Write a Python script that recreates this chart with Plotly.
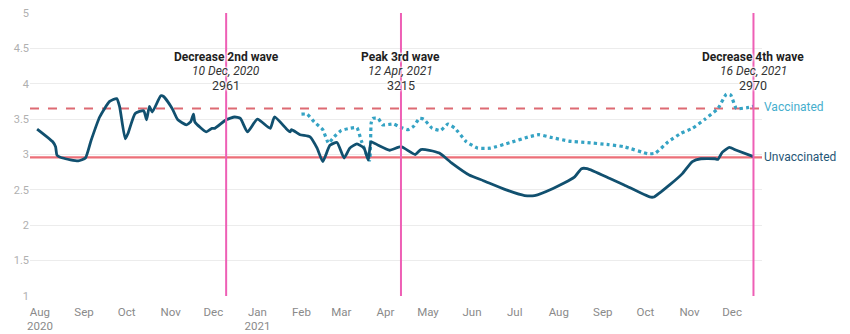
import plotly.graph_objects as go

# Unvaccinated series (thousands)
unvax_dates = [
    "2020-07-30", "2020-08-10", "2020-08-12", "2020-08-13", "2020-08-17", "2020-08-28",
    "2020-09-02", "2020-09-06", "2020-09-12", "2020-09-19", "2020-09-24", "2020-09-26",
    "2020-09-30", "2020-10-02", "2020-10-07", "2020-10-13", "2020-10-15", "2020-10-17",
    "2020-10-19", "2020-10-25", "2020-10-27", "2020-11-02", "2020-11-06", "2020-11-12",
    "2020-11-15", "2020-11-17", "2020-11-18", "2020-11-26", "2020-11-30", "2020-12-02",
    "2020-12-10", "2020-12-16", "2020-12-20", "2020-12-25", "2021-01-01", "2021-01-10",
    "2021-01-13", "2021-01-22", "2021-01-24", "2021-01-25", "2021-01-31", "2021-02-07",
    "2021-02-12", "2021-02-16", "2021-02-21", "2021-02-26", "2021-03-03", "2021-03-07",
    "2021-03-12", "2021-03-17", "2021-03-20", "2021-03-22", "2021-03-27", "2021-04-04",
    "2021-04-12", "2021-04-22", "2021-04-26", "2021-05-02", "2021-05-09", "2021-05-18",
    "2021-05-30", "2021-06-09", "2021-06-25", "2021-07-08", "2021-07-15", "2021-07-28",
    "2021-08-12", "2021-08-17", "2021-08-21", "2021-09-06", "2021-09-16", "2021-10-04",
    "2021-10-07", "2021-10-18", "2021-10-27", "2021-11-03", "2021-11-09", "2021-11-19",
    "2021-11-21", "2021-11-24", "2021-11-29", "2021-12-04", "2021-12-16",
]
unvax_values = [
    3.36, 3.18, 3.11, 2.99, 2.95, 2.91,
    2.95, 3.20, 3.53, 3.75, 3.79, 3.68,
    3.22, 3.30, 3.58, 3.62, 3.49, 3.68,
    3.60, 3.83, 3.82, 3.65, 3.49, 3.42,
    3.46, 3.57, 3.46, 3.32, 3.37, 3.37,
    3.49, 3.53, 3.51, 3.32, 3.50, 3.37,
    3.53, 3.35, 3.32, 3.35, 3.28, 3.25,
    3.09, 2.90, 3.13, 3.17, 2.95, 3.09,
    3.15, 3.09, 2.92, 3.18, 3.13, 3.06,
    3.11, 3.00, 3.07, 3.06, 3.02, 2.875,
    2.71, 2.63, 2.50, 2.42, 2.42, 2.52,
    2.68, 2.80, 2.80, 2.66, 2.57, 2.40,
    2.40, 2.57, 2.73, 2.90, 2.94, 2.94,
    2.93, 3.03, 3.10, 3.06, 2.97,
]

# Vaccinated series (thousands)
vax_dates = [
    "2021-02-01", "2021-02-05", "2021-02-10", "2021-02-16", "2021-02-20", "2021-02-24",
    "2021-03-01", "2021-03-07", "2021-03-12", "2021-03-15", "2021-03-19", "2021-03-21",
    "2021-03-22", "2021-03-23", "2021-03-27", "2021-03-30", "2021-04-07", "2021-04-11",
    "2021-04-17", "2021-04-21", "2021-04-25", "2021-04-28", "2021-05-04", "2021-05-10",
    "2021-05-15", "2021-05-20", "2021-05-28", "2021-06-05", "2021-06-14", "2021-06-28",
    "2021-07-11", "2021-07-18", "2021-07-27", "2021-08-08", "2021-08-20", "2021-09-05",
    "2021-09-16", "2021-10-03", "2021-10-08", "2021-10-17", "2021-10-26", "2021-11-03",
    "2021-11-12", "2021-11-21", "2021-11-27", "2021-11-30", "2021-12-04", "2021-12-11",
    "2021-12-16",
]
vax_values = [
    3.57, 3.57, 3.46, 3.35, 3.16, 3.25,
    3.34, 3.37, 3.38, 3.20, 2.99, 2.92,
    3.44, 3.51, 3.51, 3.42, 3.43, 3.39,
    3.35, 3.40, 3.51, 3.50, 3.37, 3.34,
    3.43, 3.37, 3.18, 3.09, 3.09, 3.17,
    3.25, 3.28, 3.24, 3.19, 3.17, 3.14,
    3.11, 3.01, 3.02, 3.18, 3.30, 3.37,
    3.50, 3.65, 3.855, 3.84, 3.65, 3.66,
    3.68,
]

# Reference levels
vax_reference = 3.65
unvax_reference = 2.96

# Wave markers
event_dates = ["2020-12-10", "2021-04-12", "2021-12-16"]
event_titles = ["Decrease 2nd wave", "Peak 3rd wave", "Decrease 4th wave"]
event_subtitles = ["10 Dec, 2020", "12 Apr, 2021", "16 Dec, 2021"]
event_values = ["2961", "3215", "2970"]

# Axis ticks
tick_dates = [
    "2020-08-01", "2020-09-01", "2020-10-01", "2020-11-01", "2020-12-01",
    "2021-01-01", "2021-02-01", "2021-03-01", "2021-04-01", "2021-05-01",
    "2021-06-01", "2021-07-01", "2021-08-01", "2021-09-01", "2021-10-01",
    "2021-11-01", "2021-12-01",
]
tick_labels = [
    "Aug<br>2020", "Sep", "Oct", "Nov", "Dec",
    "Jan<br>2021", "Feb", "Mar", "Apr", "May",
    "Jun", "Jul", "Aug", "Sep", "Oct",
    "Nov", "Dec",
]
y_ticks = [1, 1.5, 2, 2.5, 3, 3.5, 4, 4.5, 5]
y_labels = ["1", "1.5", "2", "2.5", "3", "3.5", "4", "4.5", "5"]

DARK = "#11506f"
LIGHT = "#35a3c4"
RED = "#ec6f78"
PINK = "#ee5fb5"
HALO = "1px 1px 2px #fff, -1px -1px 2px #fff, 1px -1px 2px #fff, -1px 1px 2px #fff"

fig = go.Figure()

fig.add_trace(go.Scatter(
    x=vax_dates, y=vax_values, mode="lines", name="Vaccinated",
    line=dict(color=LIGHT, width=3.2, dash="dot", shape="spline", smoothing=0.4),
    hoverinfo="skip",
))
fig.add_trace(go.Scatter(
    x=unvax_dates, y=unvax_values, mode="lines", name="Unvaccinated",
    line=dict(color=DARK, width=2.8, shape="spline", smoothing=0.5),
    hoverinfo="skip",
))

# Horizontal reference levels
fig.add_shape(type="line", xref="paper", x0=0, x1=1, yref="y",
              y0=vax_reference, y1=vax_reference, layer="below",
              line=dict(color="#dd6a73", width=2, dash="dash"))
fig.add_shape(type="line", xref="paper", x0=0, x1=1, yref="y",
              y0=unvax_reference, y1=unvax_reference, layer="below",
              line=dict(color=RED, width=2.2))

# Vertical wave markers and their labels
for d, title, sub, val in zip(event_dates, event_titles, event_subtitles, event_values):
    fig.add_shape(type="line", xref="x", x0=d, x1=d, yref="y", y0=1, y1=5,
                  layer="above", line=dict(color=PINK, width=2))
    fig.add_annotation(x=d, y=4.38, xref="x", yref="y", text=f"<b>{title}</b>",
                       showarrow=False, font=dict(size=12, color="#1e1e1e", shadow=HALO))
    fig.add_annotation(x=d, y=4.175, xref="x", yref="y", text=f"<i>{sub}</i>",
                       showarrow=False, font=dict(size=12, color="#333", shadow=HALO))
    fig.add_annotation(x=d, y=3.975, xref="x", yref="y", text=val,
                       showarrow=False, font=dict(size=12.5, color="#333", shadow=HALO))

# Series labels at the right edge
fig.add_annotation(x=1, y=vax_reference + 0.02, xref="paper", yref="y", text="Vaccinated",
                   xanchor="left", showarrow=False, xshift=0,
                   font=dict(size=12, color="#45aecd"))
fig.add_annotation(x=1, y=unvax_reference, xref="paper", yref="y", text="Unvaccinated",
                   xanchor="left", showarrow=False, xshift=0,
                   font=dict(size=12, color="#1f5676"))

fig.update_layout(
    width=850, height=334,
    margin=dict(l=30, r=88, t=13, b=38, autoexpand=False),
    paper_bgcolor="white", plot_bgcolor="white",
    font=dict(family="Roboto", size=11, color="#888"),
    showlegend=False,
    xaxis=dict(
        range=["2020-07-25", "2021-12-22"],
        tickvals=tick_dates, ticktext=tick_labels,
        showgrid=False, zeroline=False, showline=False, ticks="",
        ticklabelstandoff=7, automargin=False,
        tickfont=dict(size=11.5, color="#8a8a8a"),
    ),
    yaxis=dict(
        range=[1, 5], tickvals=y_ticks, ticktext=y_labels,
        showgrid=True, gridcolor="#ececec", gridwidth=1,
        zeroline=False, showline=False, ticks="", automargin=False,
        tickfont=dict(size=11, color="#b0b0b0"),
    ),
)

fig.write_html("out.html")
